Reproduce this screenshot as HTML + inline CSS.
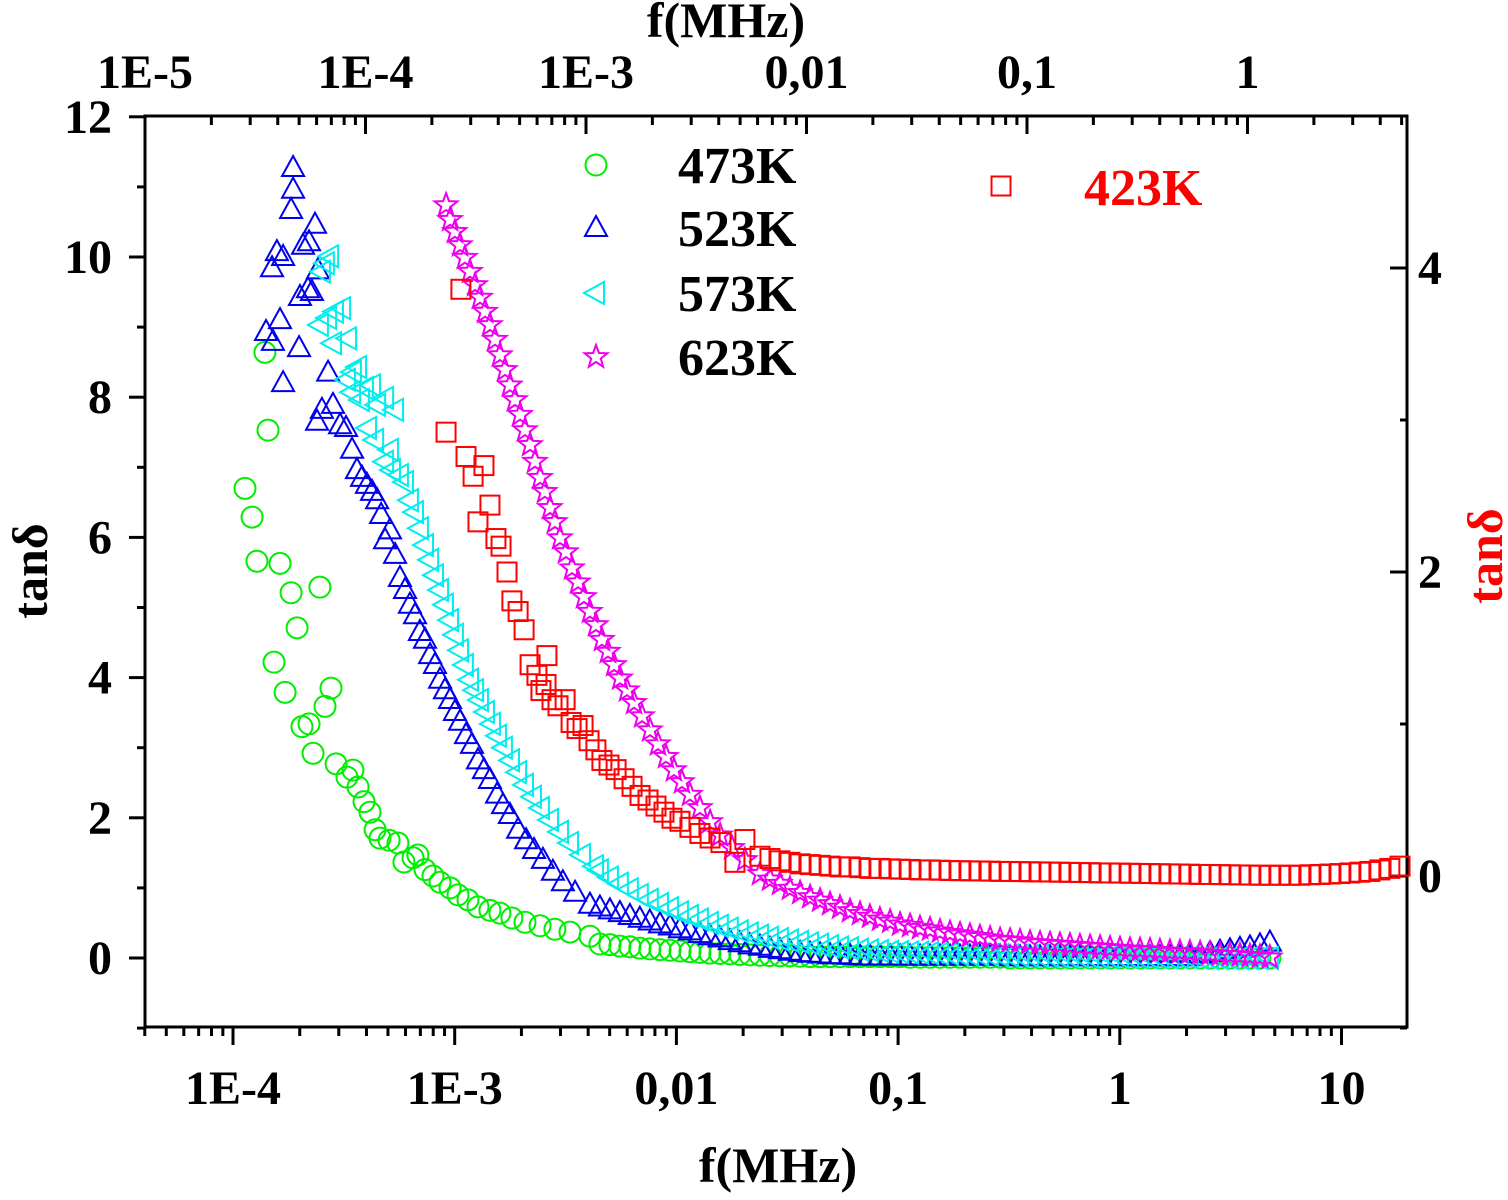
<!DOCTYPE html>
<html><head><meta charset="utf-8"><style>
html,body{margin:0;padding:0;background:#fff;}
svg{display:block;}
text{font-family:"Liberation Serif",serif;font-weight:bold;}
</style></head><body>
<svg id="chart" width="1508" height="1200" viewBox="0 0 1508 1200" xmlns="http://www.w3.org/2000/svg">
<g id="axes"></g>
<g id="marks"></g>
<g id="legend"></g>
</svg>
<script>
// ---- data: log10 of frequency in MHz and tanδ values ----
const logF473 = [-3.946,-3.914,-3.892,-3.856,-3.842,-3.815,-3.788,-3.765,-3.738,-3.711,-3.689,-3.657,-3.639,-3.608,-3.585,-3.558,-3.535,-3.486,-3.459,-3.436,-3.409,-3.382,-3.359,-3.337,-3.296,-3.256,-3.229,-3.188,-3.166,-3.134,-3.098,-3.066,-3.021,-2.985,-2.94,-2.895,-2.841,-2.796,-2.742,-2.683,-2.615,-2.548,-2.48,-2.39];
const tan473 = [6.70,6.29,5.66,8.64,7.53,4.22,5.63,3.79,5.21,4.71,3.30,3.34,2.92,5.29,3.59,3.85,2.77,2.58,2.68,2.44,2.23,2.08,1.83,1.71,1.68,1.64,1.37,1.43,1.47,1.26,1.17,1.08,1.0,0.90,0.83,0.73,0.68,0.64,0.57,0.51,0.46,0.41,0.37,0.31];

const logF523 = [-3.729,-3.729,-3.738,-3.774,-3.802,-3.824,-3.684,-3.657,-3.630,-3.698,-3.662,-3.644,-3.617,-3.851,-3.820,-3.788,-3.774,-3.702,-3.571,-3.599,-3.549,-3.621,-3.517,-3.490,-3.463,-3.441,-3.418,-3.396,-3.373,-3.350,-3.332,-3.314,-3.292,-3.269,-3.247,-3.224,-3.202,-3.179,-3.157,-3.134,-3.111,-3.089,-3.066,-3.044,-3.021,-2.999,-2.976,-2.949,-2.922,-2.895,-2.868,-2.841,-2.809,-2.782,-2.751,-2.714,-2.678,-2.642,-2.602,-2.557,-2.512,-2.457,-2.390];
const tan523 = [11.27,10.96,10.67,10.0,10.07,9.84,10.16,10.21,10.46,9.43,9.54,9.5,9.81,8.93,8.79,9.1,8.2,8.7,8.35,7.82,7.89,7.65,7.6,7.56,7.25,6.96,6.85,6.75,6.65,6.53,6.32,5.96,6.1,5.75,5.42,5.25,5.04,4.89,4.65,4.54,4.32,4.18,3.97,3.82,3.68,3.51,3.37,3.18,3.04,2.82,2.68,2.54,2.33,2.18,2.04,1.83,1.68,1.54,1.4,1.23,1.08,0.93,0.76];

const logF573 = [-3.562,-3.581,-3.599,-3.608,-3.571,-3.540,-3.508,-3.481,-3.549,-3.459,-3.436,-3.486,-3.405,-3.373,-3.463,-3.423,-3.350,-3.314,-3.269,-3.391,-3.359,-3.292,-3.314,-3.283,-3.247,-3.224,-3.202,-3.179,-3.157,-3.134,-3.111,-3.089,-3.066,-3.044,-3.021,-2.999,-2.976,-2.954,-2.931,-2.908,-2.886,-2.859,-2.832,-2.805,-2.778,-2.746,-2.714,-2.683,-2.647,-2.611,-2.570,-2.525,-2.48,-2.426,-2.367];
const tan573 = [10.01,9.91,9.79,9.03,9.13,9.22,9.27,8.84,8.77,8.36,8.43,8.25,8.13,8.17,8.07,7.96,7.89,7.99,7.82,7.56,7.39,7.25,7.08,6.96,6.89,6.79,6.53,6.36,6.13,5.89,5.68,5.46,5.25,5.04,4.82,4.61,4.39,4.18,3.97,3.82,3.68,3.51,3.34,3.17,3.0,2.82,2.65,2.47,2.3,2.14,1.97,1.8,1.64,1.47,1.31];

const logF623 = [-3.039,-3.021,-2.999,-2.976,-2.954,-2.931,-2.908,-2.886,-2.863,-2.841,-2.818,-2.796,-2.773,-2.751,-2.728,-2.705,-2.683,-2.660,-2.638,-2.615,-2.593,-2.570,-2.548,-2.525,-2.498,-2.471,-2.444,-2.417,-2.390,-2.363,-2.336,-2.309,-2.281,-2.254,-2.223,-2.191,-2.155,-2.119,-2.083,-2.047,-2.011,-1.975,-1.939,-1.894,-1.848,-1.803,-1.749,-1.691];
const tan623 = [10.74,10.53,10.36,10.17,9.99,9.79,9.6,9.42,9.22,9.03,8.82,8.6,8.39,8.17,7.96,7.75,7.53,7.32,7.08,6.85,6.65,6.42,6.22,5.99,5.79,5.56,5.36,5.15,4.94,4.75,4.54,4.37,4.18,3.99,3.82,3.64,3.45,3.25,3.05,2.87,2.68,2.51,2.33,2.14,1.94,1.75,1.57,1.40];

// 423K on right axis
const logF423 = [-2.972,-3.039,-2.949,-2.917,-2.868,-2.895,-2.841,-2.814,-2.791,-2.764,-2.742,-2.714,-2.687,-2.660,-2.629,-2.584,-2.611,-2.588,-2.561,-2.534,-2.502,-2.475,-2.448,-2.421,-2.394,-2.363,-2.336,-2.304,-2.272,-2.236,-2.200,-2.164,-2.128,-2.092,-2.056,-2.020,-1.984,-1.939,-1.894,-1.848,-1.799,-1.736,-1.691];
const tan423 = [3.86,2.92,2.76,2.63,2.70,2.33,2.44,2.22,2.17,2.0,1.81,1.74,1.62,1.39,1.32,1.45,1.22,1.26,1.16,1.12,1.16,1.01,0.97,0.99,0.89,0.83,0.76,0.73,0.70,0.64,0.59,0.53,0.50,0.46,0.42,0.38,0.36,0.32,0.28,0.25,0.22,0.09,0.24];

// high-frequency tails: shared log10 frequency categories
const tailLogF = [-2.345,-2.300,-2.255,-2.210,-2.165,-2.120,-2.074,-2.029,-1.984,-1.939,-1.894,-1.849,-1.804,-1.759,-1.714,-1.669,-1.623,-1.578,-1.533,-1.488,-1.442,-1.397,-1.352,-1.307,-1.262,-1.217,-1.172,-1.127,-1.082,-1.036,-0.991,-0.946,-0.901,-0.856,-0.811,-0.766,-0.721,-0.676,-0.631,-0.585,-0.540,-0.495,-0.450,-0.405,-0.360,-0.315,-0.270,-0.225,-0.180,-0.134,-0.089,-0.044,0.001,0.046,0.091,0.136,0.181,0.226,0.271,0.316,0.362,0.407,0.452,0.497,0.542,0.587,0.632,0.677,0.722,0.767,0.812,0.858,0.903,0.948,0.993,1.038,1.083,1.128,1.173,1.218,1.264];
const tail473 = [0.20,0.19,0.17,0.16,0.14,0.13,0.12,0.11,0.10,0.09,0.08,0.07,0.065,0.06,0.05,0.045,0.04,0.035,0.03,0.03,0.025,0.02,0.02,0.02,0.02,0.02,0.02,0.02,0.02,0.02,0.02,0.01,0.01,0.01,0.01,0.01,0.01,0.01,0.01,0.01,0.01,0,0,0,0,0,0,0,0,0,0,0,0,0,0,0,0,0,0,0,0,0,0,0,0,0,0,0];
const tail523 = [0.72,0.68,0.64,0.60,0.56,0.52,0.48,0.45,0.41,0.38,0.34,0.31,0.28,0.24,0.21,0.18,0.16,0.13,0.11,0.09,0.07,0.06,0.05,0.04,0.04,0.03,0.02,0.02,0.02,0.02,0.02,0.02,0.02,0.02,0.02,0.02,0.02,0.02,0.02,0.02,0.02,0.01,0.01,0.01,0.01,0.01,0.01,0.01,0.01,0.01,0.01,0.01,0.01,0.01,0.01,0.01,0.01,0.01,0.01,0.01,0.05,0.07,0.09,0.11,0.13,0.15,0.18,0.22];
const tail573 = [1.25,1.15,1.06,0.98,0.90,0.83,0.77,0.71,0.65,0.60,0.55,0.50,0.46,0.42,0.38,0.35,0.32,0.29,0.27,0.25,0.23,0.21,0.19,0.17,0.15,0.14,0.12,0.11,0.10,0.09,0.085,0.08,0.075,0.07,0.065,0.06,0.055,0.05,0.05,0.045,0.04,0.035,0.035,0.03,0.03,0.03,0.025,0.025,0.025,0.02,0.02,0.02,0.02,0.015,0.015,0.015,0.01,0.01,0.01,0.01,0.005,0,0,0,0,0,0,0];
const tail623 = [1.20,1.12,1.06,0.99,0.93,0.87,0.82,0.77,0.72,0.67,0.63,0.59,0.55,0.52,0.48,0.46,0.43,0.41,0.38,0.36,0.34,0.32,0.30,0.28,0.26,0.25,0.24,0.22,0.21,0.20,0.19,0.18,0.17,0.16,0.15,0.14,0.13,0.12,0.115,0.11,0.10,0.09,0.085,0.08,0.07,0.06,0.05,0.045,0.04,0.03,0.02,0.01];
const tail423 = [0.13,0.115,0.10,0.09,0.08,0.075,0.07,0.065,0.06,0.06,0.055,0.05,0.05,0.047,0.045,0.043,0.04,0.04,0.038,0.036,0.035,0.034,0.033,0.032,0.03,0.03,0.029,0.028,0.027,0.026,0.025,0.024,0.023,0.022,0.02,0.02,0.019,0.018,0.017,0.016,0.015,0.014,0.013,0.012,0.01,0.01,0.009,0.008,0.007,0.006,0.005,0.005,0.005,0.005,0.005,0.008,0.01,0.013,0.016,0.02,0.025,0.03,0.04,0.05,0.065];
const tailStart623 = 16, tailStart423 = 16;

const bottomTickLabels = ["1E-4","1E-3","0,01","0,1","1","10"];
const bottomTickLogs = [-4,-3,-2,-1,0,1];
const topTickLabels = ["1E-5","1E-4","1E-3","0,01","0,1","1"];
const topTickLogs = [-5,-4,-3,-2,-1,0];
const leftTicks = [0,2,4,6,8,10,12];
const rightTicks = [0,2,4];

// ---- geometry ----
const L=145,R=1407,T=116,B=1027;
const xB = lf => 233 + (lf+4)*221.7;
const xT = lf => 145 + (lf+5)*220.5;
const yL = v => 958 - v*70.1;
const yR = v => 876 - v*152;
const NS="http://www.w3.org/2000/svg";
function el(tag, attrs, parent){const e=document.createElementNS(NS,tag);for(const k in attrs)e.setAttribute(k,attrs[k]);parent.appendChild(e);return e;}
const axes=document.getElementById('axes'), marks=document.getElementById('marks'), legend=document.getElementById('legend');

let fr=el('rect',{x:L,y:T,width:R-L,height:B-T,fill:'none',stroke:'#000','stroke-width':3},axes);



for(let d=-5; d<=1; d++){
  for(let m=1;m<=9;m++){
    const lf=d+Math.log10(m); const x=xB(lf);
    if(x<L-1||x>R+1) continue;
    const t=el('line',{x1:x,y1:B,x2:x,y2:B+(m===1?18:9),stroke:'#000','stroke-width':3},axes);
    
    
  }
}
bottomTickLabels.forEach((s,i)=>{
  const t=el('text',{x:xB(bottomTickLogs[i]),y:1104,'font-size':48,'text-anchor':'middle'},axes);t.textContent=s;
  
  
});
for(let d=-5; d<=1; d++){
  for(let m=1;m<=9;m++){
    const lf=d+Math.log10(m); const x=xT(lf);
    if(x<L+2||x>R-1) continue;
    const t=el('line',{x1:x,y1:T,x2:x,y2:T+(m===1?18:9),stroke:'#000','stroke-width':3},axes);
    
    
  }
}
topTickLabels.forEach((s,i)=>{
  const t=el('text',{x:xT(topTickLogs[i]),y:88,'font-size':48,'text-anchor':'middle'},axes);t.textContent=s;
  
  
});
for(let v=-1; v<=12; v++){
  const y=yL(v);
  const t=el('line',{x1:L,y1:y,x2:L-(v%2===0?16:8),y2:y,stroke:'#000','stroke-width':3},axes);
  
  
}
leftTicks.forEach(v=>{
  const t=el('text',{x:112,y:yL(v)+16,'font-size':48,'text-anchor':'end'},axes);t.textContent=v;
  
  
});
for(let v=-1; v<=5; v++){
  const y=yR(v); if(y<T+2) continue;
  const t=el('line',{x1:R,y1:y,x2:R-(v%2===0?17:7),y2:y,stroke:'#000','stroke-width':3},axes);
  
  
}
rightTicks.forEach(v=>{
  const t=el('text',{x:1430,y:yR(v)+16,'font-size':48,'text-anchor':'middle'},axes);t.textContent=v;
  
  
});
let at=el('text',{x:778,y:1182,'font-size':50,'text-anchor':'middle'},axes);at.textContent='f(MHz)';


at=el('text',{x:726,y:37,'font-size':50,'text-anchor':'middle'},axes);at.textContent='f(MHz)';


at=el('text',{x:0,y:0,'font-size':50,'text-anchor':'middle',transform:'translate(47,571) rotate(-90)'},axes);at.textContent='tanδ';


at=el('text',{x:0,y:0,'font-size':50,'text-anchor':'middle',fill:'#ff0000',transform:'translate(1502,556) rotate(-90)'},axes);at.textContent='tanδ';



function marker(shape,cx,cy,color,parent){
  let e;
  if(shape==='circle') e=el('circle',{cx:cx,cy:cy,r:10.5},parent);
  else if(shape==='tri') e=el('polygon',{points:`${cx},${cy-12} ${cx-11},${cy+8} ${cx+11},${cy+8}`},parent);
  else if(shape==='ltri') e=el('polygon',{points:`${cx-12},${cy} ${cx+8},${cy-11} ${cx+8},${cy+11}`},parent);
  else if(shape==='square') e=el('rect',{x:cx-9.5,y:cy-9.5,width:19,height:19},parent);
  else { let p=[];for(let i=0;i<10;i++){const r=i%2?5:12;const a=-Math.PI/2+i*Math.PI/5;p.push((cx+r*Math.cos(a)).toFixed(1)+','+(cy+r*Math.sin(a)).toFixed(1));} e=el('polygon',{points:p.join(' ')},parent);}
  e.setAttribute('fill','none');e.setAttribute('stroke',color);e.setAttribute('stroke-width',2);
  return e;
}
function series(name,logs,vals,tLogs,tVals,shape,color,yf){
  const g=el('g',{},marks);
  
  
  const pts=[];
  const n=Math.min(logs.length,vals.length);
  for(let i=0;i<n;i++) pts.push([logs[i],vals[i]]);
  const m2=Math.min(tLogs.length,tVals.length);
  for(let i=0;i<m2;i++) pts.push([tLogs[i],tVals[i]]);
  pts.forEach(p=>{
    const m=marker(shape,xB(p[0]),yf(p[1]),color,g);
    
    
  });
}
series('series-473k',logF473,tan473,tailLogF,tail473,'circle','#00ee00',yL);
series('series-523k',logF523,tan523,tailLogF,tail523,'tri','#0000ee',yL);
series('series-573k',logF573,tan573,tailLogF,tail573,'ltri','#00eeee',yL);
series('series-623k',logF623,tan623,tailLogF.slice(tailStart623),tail623,'star','#ee00ee',yL);
series('series-423k',logF423,tan423,tailLogF.slice(tailStart423),tail423,'square','#ff0000',yR);

const legItems=[['473K','circle','#00ee00',165],['523K','tri','#0000ee',228],['573K','ltri','#00eeee',293],['623K','star','#ee00ee',357]];
legItems.forEach(it=>{
  const m=marker(it[1],596,it[3],it[2],legend);
  
  
  const t=el('text',{x:678,y:it[3]+18,'font-size':52},legend);t.textContent=it[0];
  
  
});
let lm=marker('square',1001,186,'#ff0000',legend);


let lt=el('text',{x:1084,y:205,'font-size':52,fill:'#ff0000'},legend);lt.textContent='423K';


</script>
</body></html>
